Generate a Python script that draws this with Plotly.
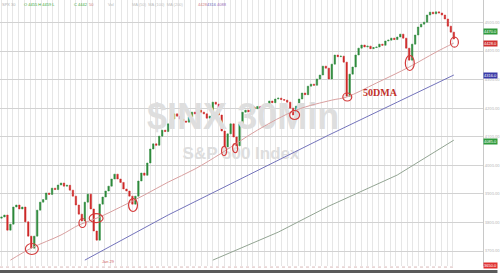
import numpy as np
import plotly.graph_objects as go

# ---------------- data ----------------
first_open = 3815
closes = [3819, 3826, 3773, 3794, 3854, 3861, 3847, 3854, 3802, 3752,
          3710, 3752, 3843, 3871, 3880, 3903, 3898, 3920, 3915, 3931,
          3938, 3927, 3930, 3913, 3892, 3861, 3829, 3805, 3871, 3899,
          3847, 3770, 3738, 3864, 3889, 3910, 3927, 3952, 3969, 3952,
          3940, 3917, 3910, 3892, 3864, 3892, 3945, 3973, 3965, 4008,
          4057, 4075, 4070, 4102, 4123, 4118, 4145, 4162, 4180, 4172,
          4162, 4155, 4151, 4169, 4186, 4180, 4193, 4186, 4180, 4165,
          4172, 4221, 4214, 4176, 4120, 4060, 4110, 4145, 4099, 4068,
          4145, 4186, 4193, 4187, 4204, 4198, 4206, 4200, 4208, 4214,
          4225, 4219, 4232, 4235, 4230, 4228, 4221, 4200, 4176, 4207,
          4232, 4253, 4247, 4277, 4284, 4280, 4302, 4316, 4347, 4340,
          4302, 4354, 4386, 4380, 4382, 4361, 4242, 4319, 4344, 4386,
          4410, 4421, 4414, 4417, 4408, 4412, 4414, 4424, 4420, 4435,
          4438, 4445, 4440, 4449, 4459, 4445, 4410, 4368, 4424, 4456,
          4484, 4494, 4501, 4526, 4536, 4530, 4537, 4533, 4526, 4512,
          4487, 4466, 4442]

ma50_idx = [3, 10, 20, 26, 33, 40, 48, 56, 65, 74, 86, 99, 111, 116, 126, 137, 146, 152]
ma50_val = [3668, 3710, 3756, 3791, 3819, 3854, 3896, 3941, 3987, 4043, 4123, 4193,
            4228, 4239, 4288, 4344, 4396, 4428]
ma100_idx = [28, 56, 83, 110, 133, 152]
ma100_val = [3668, 3826, 3966, 4106, 4221, 4316]
ma200_idx = [71, 93, 110, 133, 152]
ma200_val = [3668, 3766, 3857, 3966, 4088]

# highlighted touches of the 50DMA: (bar index, price)
touch_idx = [10.2, 27.2, 31.8, 44.2, 74.8, 78.5, 98.5, 116.2, 137.2, 152.2]
touch_px = [3707, 3798, 3815, 3861, 4050, 4060, 4176, 4239, 4358, 4431]

y_ticks = [3700, 3800, 3900, 4000, 4100, 4200, 4300, 4400, 4500]

# ---------------- figure ----------------
n = len(closes)
idx = list(range(n))
opens = [first_open] + closes[:-1]
highs = [max(o, c) for o, c in zip(opens, closes)]
lows = [min(o, c) for o, c in zip(opens, closes)]

fig = go.Figure()

# watermark (behind everything)
fig.add_trace(go.Scatter(x=[81.2], y=[4158], mode="text", text=["$INX 30Min"],
                         textfont=dict(family="Liberation Sans", size=36, color="#dedede", weight="bold"),
                         hoverinfo="skip", showlegend=False))
fig.add_trace(go.Scatter(x=[80.5], y=[4036], mode="text", text=["S&P 500 Index"],
                         textfont=dict(family="Liberation Sans", size=17, color="#dedede", weight="bold"),
                         hoverinfo="skip", showlegend=False))

fig.add_trace(go.Scatter(x=ma200_idx, y=ma200_val, mode="lines",
                         line=dict(color="#93a593", width=1), showlegend=False, hoverinfo="skip"))
fig.add_trace(go.Scatter(x=ma100_idx, y=ma100_val, mode="lines",
                         line=dict(color="#7474bc", width=1), showlegend=False, hoverinfo="skip"))
fig.add_trace(go.Scatter(x=ma50_idx, y=ma50_val, mode="lines", line_shape="spline",
                         line=dict(color="#d9a0a0", width=1), showlegend=False, hoverinfo="skip"))

fig.add_trace(go.Candlestick(x=idx, open=opens, high=highs, low=lows, close=closes,
                             increasing=dict(line=dict(color="#2e8a3c", width=0.5), fillcolor="#2e8a3c"),
                             decreasing=dict(line=dict(color="#cf2a2a", width=0.5), fillcolor="#cf2a2a"),
                             whiskerwidth=0, showlegend=False, hoverinfo="skip"))

px_x = 3.0   # px per bar
px_y = 3.5   # price per px
shapes = []
sizes = [(13, 11), (7, 9), (14, 9), (9, 13), (5, 9), (5, 9), (10, 9), (9, 8), (9, 15), (8, 10)]
for (cx, cy), (w, h) in zip(zip(touch_idx, touch_px), sizes):
    shapes.append(dict(type="circle", xref="x", yref="y",
                       x0=cx - w / 2 / px_x, x1=cx + w / 2 / px_x,
                       y0=cy - h / 2 * px_y, y1=cy + h / 2 * px_y,
                       line=dict(color="#d43a3a", width=1.2), layer="above"))
# bottom strip
shapes.append(dict(type="line", xref="paper", yref="paper", x0=0, x1=0.94, y0=-0.004, y1=-0.004,
                   line=dict(color="#d8b8b8", width=1, dash="dot")))
shapes.append(dict(type="rect", xref="paper", yref="paper", x0=0, x1=1.03, y0=-0.027, y1=-0.015,
                   fillcolor="#5a5a5a", line=dict(width=0)))

annotations = [
    dict(x=127.5, y=4256, xref="x", yref="y", text="<b>50DMA</b>", showarrow=False,
         font=dict(family="Liberation Serif", size=10, color="#c0302a")),
    dict(x=36, y=3662, xref="x", yref="y", text="Jan 29", showarrow=False,
         font=dict(family="Liberation Sans", size=4, color="#d06060")),
]
# right axis value boxes
for yv, col, txt in [(4470, "#2e9a3c", "4470.0"), (4428, "#d03030", "4428.0"),
                     (4316, "#3a3aa8", "4316.0"), (4085, "#2e9a3c", "4085.0"),
                     (3650, "#e03030", "3650.0")]:
    annotations.append(dict(x=1.0, y=yv, xref="paper", yref="y", xanchor="left", text=txt,
                            showarrow=False, bgcolor=col, borderpad=0,
                            font=dict(family="Liberation Sans", size=4, color="white")))
# tiny top legend
for xp, col, txt in [(0.0, "#b0b0b0", "SPX 30"), (0.045, "#3aa83a", "O 4455 H 4459 L"),
                     (0.15, "#3aa83a", "C 4442"), (0.18, "#d08080", "50"),
                     (0.22, "#b8b8b8", "Vol"), (0.27, "#c0c0c0", "MA (50)  MA (100)  MA (200)"),
                     (0.405, "#d08080", "4428"), (0.425, "#6a6ab8", "4316"),
                     (0.445, "#9a6ab8", "4088")]:
    annotations.append(dict(x=xp, y=1.0, xref="paper", yref="paper", xanchor="left", yanchor="top",
                            text=txt, showarrow=False,
                            font=dict(family="Liberation Sans", size=4, color=col)))

fig.update_layout(
    width=500, height=273, margin=dict(l=0, r=13, t=0, b=7),
    paper_bgcolor="white", plot_bgcolor="white",
    shapes=shapes, annotations=annotations, showlegend=False,
    xaxis=dict(range=[-0.5, 161.8], tickmode="array", tickvals=list(np.arange(0, n, 1.92)),
               showticklabels=False, ticks="", gridcolor="#e6e6e6", gridwidth=1,
               zeroline=False, showline=False, rangeslider=dict(visible=False), fixedrange=True),
    yaxis=dict(range=[3647.5, 4578.5], side="right", tickmode="array", tickvals=y_ticks,
               ticktext=[f"{v:.2f}" for v in y_ticks], tickfont=dict(size=4, color="#b0b0b0"),
               gridcolor="#d2d2d2", gridwidth=1, zeroline=False, showline=True,
               linecolor="#c8c8c8", ticks="", fixedrange=True),
)

fig.write_html("out.html")
